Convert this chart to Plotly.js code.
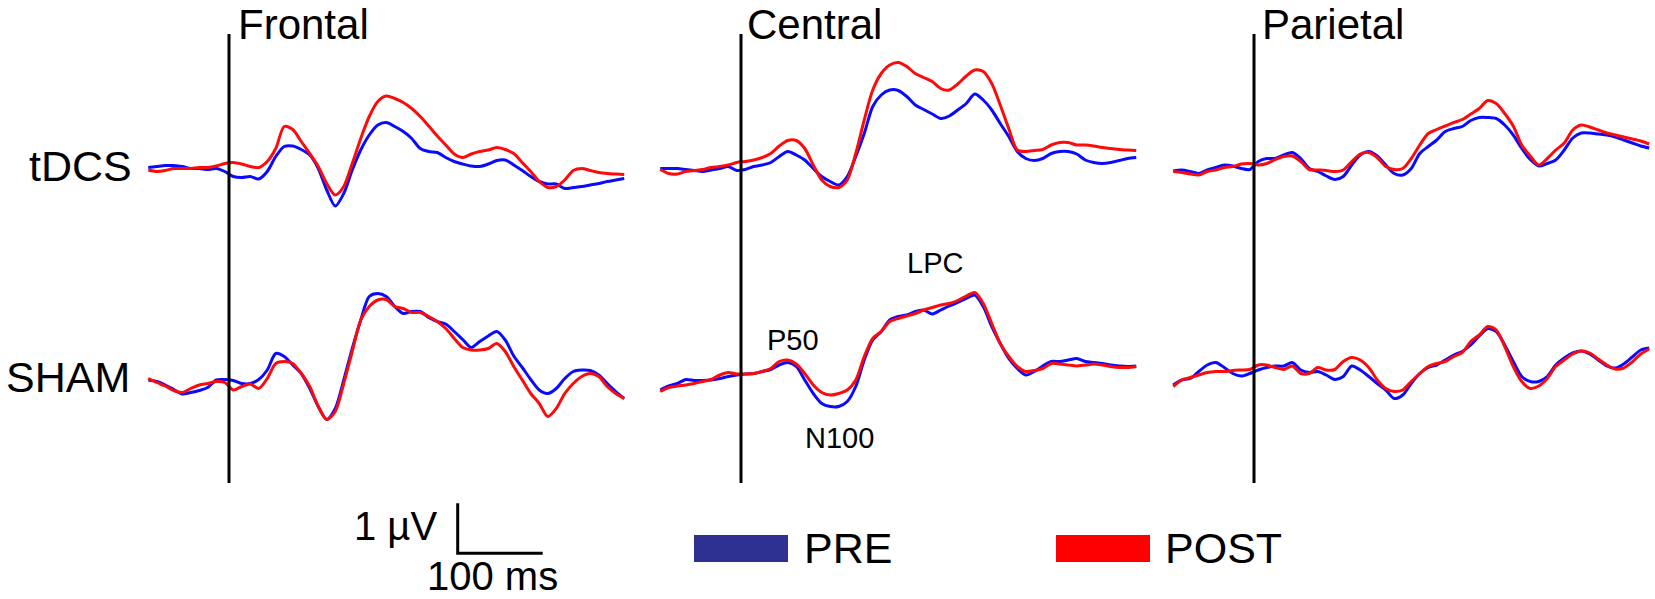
<!DOCTYPE html>
<html>
<head>
<meta charset="utf-8">
<script src="https://cdn.plot.ly/plotly-3.0.1.min.js"></script>
<style>html,body{margin:0;padding:0;background:#fff;}#chart{width:1655px;height:599px;}</style>
</head>
<body>
<div id="chart"></div>
<script>
// ---- data (time in ms, amplitude in µV) ----
var timeMs = [-95,-85,-75,-65,-55,-45,-35,-25,-15,-5,5,15,25,35,45,55,65,75,85,95,105,115,125,135,145,155,165,175,185,195,205,215,225,235,245,255,265,275,285,295,305,315,325,335,345,355,365,375,385,395,405,415,425,435,445,455,465];

var frontalTdcsPre = [0.01,0.03,0.05,0.05,0.03,-0.01,-0.01,-0.03,-0.01,-0.07,-0.17,-0.19,-0.17,-0.22,-0.07,0.23,0.43,0.44,0.37,0.26,-0.01,-0.44,-0.76,-0.51,-0.04,0.36,0.66,0.86,0.91,0.83,0.73,0.59,0.39,0.33,0.31,0.21,0.13,0.08,0.04,0.03,0.08,0.15,0.16,0.06,-0.05,-0.17,-0.27,-0.32,-0.32,-0.41,-0.39,-0.37,-0.34,-0.31,-0.27,-0.24,-0.21];
var frontalTdcsPost = [-0.04,-0.07,-0.05,-0.01,-0.01,-0.01,0.01,0.01,0.04,0.09,0.11,0.08,0.03,0.01,0.13,0.39,0.83,0.77,0.53,0.29,0.03,-0.31,-0.54,-0.37,0.09,0.59,1.03,1.33,1.44,1.39,1.31,1.19,1.03,0.84,0.64,0.46,0.28,0.21,0.28,0.33,0.36,0.41,0.37,0.29,0.11,-0.07,-0.27,-0.39,-0.37,-0.24,-0.05,-0.01,-0.05,-0.09,-0.11,-0.12,-0.13];
var frontalShamPre = [0.00,-0.03,-0.10,-0.19,-0.28,-0.25,-0.21,-0.15,0.00,0.01,-0.01,-0.07,-0.07,0.01,0.20,0.53,0.47,0.30,0.13,-0.17,-0.53,-0.79,-0.57,0.00,0.63,1.20,1.67,1.73,1.67,1.47,1.33,1.37,1.37,1.25,1.17,1.12,0.97,0.81,0.65,0.77,0.88,0.97,0.80,0.48,0.25,0.01,-0.20,-0.27,-0.17,0.03,0.17,0.20,0.19,0.10,-0.07,-0.23,-0.37];
var frontalShamPost = [0.03,-0.05,-0.12,-0.21,-0.25,-0.17,-0.10,-0.07,-0.03,-0.05,-0.20,-0.13,-0.08,-0.17,0.03,0.33,0.37,0.33,0.13,-0.13,-0.53,-0.79,-0.63,-0.07,0.57,1.20,1.47,1.60,1.61,1.47,1.43,1.35,1.35,1.27,1.17,1.03,0.83,0.65,0.60,0.60,0.63,0.73,0.57,0.27,0.00,-0.27,-0.47,-0.73,-0.57,-0.27,-0.07,0.07,0.13,0.07,-0.13,-0.27,-0.37];

var centralTdcsPre = [-0.01,-0.01,-0.01,-0.03,-0.05,-0.07,-0.04,-0.01,0.03,-0.05,-0.03,0.03,0.06,0.11,0.23,0.33,0.26,0.16,-0.01,-0.17,-0.27,-0.34,-0.17,0.23,0.69,1.23,1.46,1.56,1.55,1.43,1.26,1.17,1.08,0.99,1.04,1.16,1.29,1.48,1.36,1.16,0.89,0.63,0.33,0.19,0.15,0.19,0.29,0.33,0.33,0.28,0.16,0.11,0.09,0.11,0.15,0.19,0.21];
var centralTdcsPost = [-0.03,-0.11,-0.12,-0.07,-0.05,-0.03,0.01,0.03,0.06,0.11,0.13,0.16,0.21,0.29,0.44,0.55,0.55,0.39,0.06,-0.24,-0.37,-0.39,-0.24,0.29,0.96,1.56,1.89,2.06,2.11,2.03,1.89,1.81,1.73,1.59,1.56,1.68,1.84,1.96,1.93,1.69,1.26,0.79,0.36,0.33,0.35,0.37,0.46,0.51,0.51,0.46,0.46,0.44,0.41,0.39,0.37,0.36,0.35];
var centralShamPre = [-0.20,-0.12,-0.07,0.01,-0.01,-0.01,0.00,0.03,0.07,0.10,0.12,0.13,0.17,0.21,0.30,0.35,0.27,0.00,-0.27,-0.47,-0.53,-0.53,-0.43,-0.13,0.40,0.80,0.97,1.20,1.27,1.30,1.37,1.40,1.32,1.40,1.48,1.55,1.63,1.70,1.47,1.07,0.73,0.43,0.23,0.10,0.17,0.28,0.37,0.37,0.40,0.43,0.37,0.35,0.33,0.30,0.28,0.27,0.28];
var centralShamPost = [-0.23,-0.15,-0.12,-0.10,-0.07,-0.03,0.01,0.10,0.15,0.12,0.12,0.13,0.17,0.23,0.37,0.40,0.32,0.13,-0.10,-0.25,-0.30,-0.27,-0.20,0.00,0.47,0.83,0.97,1.17,1.23,1.28,1.33,1.40,1.45,1.50,1.53,1.59,1.68,1.75,1.53,1.13,0.73,0.47,0.27,0.17,0.19,0.23,0.33,0.32,0.30,0.28,0.30,0.32,0.30,0.27,0.25,0.25,0.27];

var parietalTdcsPre = [-0.06,-0.04,-0.07,-0.11,-0.04,0.01,0.06,0.04,-0.01,-0.03,0.13,0.19,0.19,0.26,0.31,0.19,-0.01,-0.07,-0.16,-0.23,-0.17,0.06,0.26,0.33,0.24,0.06,-0.11,-0.14,-0.01,0.29,0.43,0.56,0.73,0.79,0.83,0.95,1.01,1.01,0.99,0.86,0.66,0.39,0.17,0.04,0.09,0.16,0.36,0.60,0.70,0.70,0.68,0.66,0.62,0.56,0.50,0.44,0.40];
var parietalTdcsPost = [-0.07,-0.09,-0.12,-0.14,-0.07,-0.04,0.01,0.03,0.08,0.09,0.06,0.09,0.17,0.23,0.24,0.13,-0.03,-0.04,-0.05,-0.07,-0.04,0.13,0.28,0.31,0.21,0.03,-0.03,-0.01,0.19,0.46,0.69,0.77,0.84,0.91,0.97,1.08,1.19,1.35,1.29,1.09,0.84,0.46,0.24,0.06,0.19,0.36,0.50,0.76,0.86,0.82,0.76,0.70,0.66,0.62,0.58,0.54,0.48];
var parietalShamPre = [-0.10,0.00,0.03,0.17,0.30,0.35,0.25,0.13,0.08,0.13,0.20,0.25,0.28,0.28,0.35,0.20,0.15,0.17,0.10,0.01,0.07,0.28,0.20,0.07,-0.07,-0.20,-0.37,-0.30,-0.07,0.13,0.25,0.30,0.40,0.50,0.57,0.70,0.88,1.03,0.97,0.70,0.37,0.07,-0.03,-0.03,0.07,0.30,0.44,0.54,0.58,0.52,0.40,0.28,0.24,0.32,0.46,0.60,0.64];
var parietalShamPost = [-0.13,0.00,0.05,0.10,0.15,0.17,0.17,0.19,0.20,0.21,0.30,0.30,0.25,0.21,0.28,0.13,0.13,0.25,0.20,0.21,0.37,0.45,0.40,0.25,0.00,-0.17,-0.23,-0.20,-0.03,0.13,0.27,0.33,0.37,0.47,0.55,0.77,0.90,1.07,1.00,0.67,0.27,-0.03,-0.17,-0.12,0.03,0.27,0.40,0.52,0.58,0.54,0.42,0.30,0.22,0.24,0.36,0.52,0.62];

var regionLabels = ['Frontal', 'Central', 'Parietal'];
var conditionLabels = ['tDCS', 'SHAM'];
var seriesLabels = ['PRE', 'POST'];
var componentLabels = ['P50', 'N100', 'LPC'];
var scaleBarMs = 100;
var scaleBarUv = 1;
var scaleLabels = ['1 \u00b5V', '100 ms'];

// ---- layout helpers (pixels -> paper) ----
var W = 1655, H = 599;
function px(x) { return x / W; }
function py(y) { return 1 - y / H; }

var FONT = 'Liberation Sans, Arial, Helvetica, sans-serif';
var BLUE = '#0a0aff', RED = '#ff0a0a';

var panels = [
  { x: 'x',  y: 'y',  pre: frontalTdcsPre,   post: frontalTdcsPost },
  { x: 'x',  y: 'y2', pre: frontalShamPre,   post: frontalShamPost },
  { x: 'x2', y: 'y',  pre: centralTdcsPre,   post: centralTdcsPost },
  { x: 'x2', y: 'y2', pre: centralShamPre,   post: centralShamPost },
  { x: 'x3', y: 'y',  pre: parietalTdcsPre,  post: parietalTdcsPost },
  { x: 'x3', y: 'y2', pre: parietalShamPre,  post: parietalShamPost }
];

var traces = [];
panels.forEach(function (p) {
  traces.push({ x: timeMs, y: p.pre, xaxis: p.x, yaxis: p.y, type: 'scatter', mode: 'lines',
    name: seriesLabels[0], line: { color: BLUE, width: 3, shape: 'spline', smoothing: 0.8 }, hoverinfo: 'skip' });
  traces.push({ x: timeMs, y: p.post, xaxis: p.x, yaxis: p.y, type: 'scatter', mode: 'lines',
    name: seriesLabels[1], line: { color: RED, width: 3, shape: 'spline', smoothing: 0.8 }, hoverinfo: 'skip' });
});

// scale bar through its own axes (same ms and µV scale as the panels)
traces.push({ x: [0, 0, scaleBarMs], y: [scaleBarUv, 0, 0], xaxis: 'x4', yaxis: 'y3', type: 'scatter',
  mode: 'lines', line: { color: '#000', width: 3 }, hoverinfo: 'skip' });

// time axis: 0.85 px per ms; amplitude axis: 50 px per µV
function xax(stimPx) {
  var left = stimPx - 100 * 0.85, right = stimPx + 470 * 0.85;
  return { domain: [px(left), px(right)], range: [-100, 470], visible: false, fixedrange: true };
}
function yax(zeroPx, topPx, botPx) {
  return { domain: [py(botPx), py(topPx)], range: [(zeroPx - botPx) / 50, (zeroPx - topPx) / 50],
    visible: false, fixedrange: true };
}
var stimPx = [229, 741, 1254];

var layout = {
  width: W, height: H,
  margin: { l: 0, r: 0, t: 0, b: 0 },
  paper_bgcolor: '#fff', plot_bgcolor: 'rgba(0,0,0,0)',
  showlegend: false,
  xaxis: xax(stimPx[0]), xaxis2: xax(stimPx[1]), xaxis3: xax(stimPx[2]),
  yaxis: yax(168, 40, 260), yaxis2: yax(380, 250, 480),
  xaxis4: { domain: [px(440), px(560)], range: [(440 - 457.7) / 0.85, (560 - 457.7) / 0.85], visible: false, fixedrange: true },
  yaxis3: { domain: [py(570), py(480)], range: [(553.3 - 570) / 50, (553.3 - 480) / 50], visible: false, fixedrange: true },
  shapes: [],
  annotations: []
};

// stimulus onset lines
['x', 'x2', 'x3'].forEach(function (xr) {
  layout.shapes.push({ type: 'line', xref: xr, yref: 'paper', x0: 0, x1: 0, y0: py(483), y1: py(34),
    line: { color: '#000', width: 3 } });
});
// legend swatches
layout.shapes.push({ type: 'rect', xref: 'paper', yref: 'paper', x0: px(694), x1: px(788), y0: py(562), y1: py(535),
  fillcolor: '#2e3192', line: { width: 0 } });
layout.shapes.push({ type: 'rect', xref: 'paper', yref: 'paper', x0: px(1056), x1: px(1150), y0: py(562), y1: py(535),
  fillcolor: '#ff0000', line: { width: 0 } });

function ann(text, x, baseline, size, anchor) {
  layout.annotations.push({ text: text, xref: 'paper', yref: 'paper', x: px(x), y: py(baseline - 0.35 * size),
    xanchor: anchor || 'left', yanchor: 'middle', showarrow: false, borderpad: 0,
    font: { family: FONT, size: size, color: '#000' } });
}
function annTop(text, x, size) {
  layout.annotations.push({ text: text, xref: 'paper', yref: 'paper', x: px(x), y: 1,
    xanchor: 'left', yanchor: 'top', showarrow: false, borderpad: 0,
    font: { family: FONT, size: size, color: '#000' } });
}
function annBottom(text, x, size) {
  layout.annotations.push({ text: text, xref: 'paper', yref: 'paper', x: px(x), y: 0,
    xanchor: 'left', yanchor: 'bottom', showarrow: false, borderpad: 0,
    font: { family: FONT, size: size, color: '#000' } });
}
annTop(regionLabels[0], 237, 42);
annTop(regionLabels[1], 746, 42);
annTop(regionLabels[2], 1261, 42);
ann(conditionLabels[0], 133, 181, 43, 'right');
ann(conditionLabels[1], 131, 392, 43, 'right');
ann(componentLabels[0], 766, 350, 29);
ann(componentLabels[1], 804, 448, 29);
ann(componentLabels[2], 906, 273, 29);
ann(scaleLabels[0], 438, 540, 40, 'right');
annBottom(scaleLabels[1], 426, 40);
ann(seriesLabels[0], 803, 563, 43);
ann(seriesLabels[1], 1164, 563, 43);

Plotly.newPlot('chart', traces, layout, { displayModeBar: false, staticPlot: true });
</script>
</body>
</html>
